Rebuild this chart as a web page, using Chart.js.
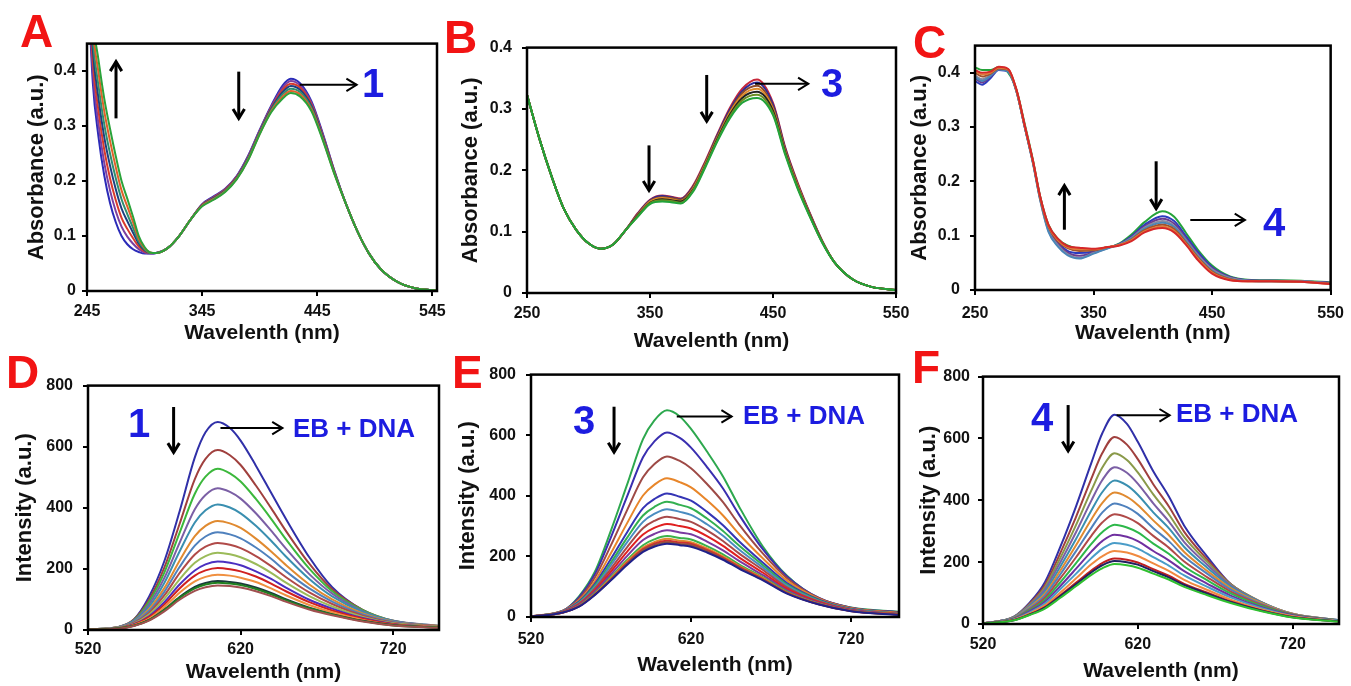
<!DOCTYPE html>
<html lang="en">
<head>
  <meta charset="UTF-8" />
  <title>Absorption and EB-DNA emission spectra</title>
  <script src="https://cdn.jsdelivr.net/npm/chart.js"></script>
  <style>
    body {
      margin: 0;
      width: 1351px;
      height: 686px;
      overflow: hidden;
      position: relative;
      background: #fff;
      font-family: "Liberation Sans", Arial, sans-serif;
    }
    .panel {
      position: absolute;
    }
    .tag {
      position: absolute;
      font-weight: 700;
      line-height: 1;
      white-space: nowrap;
    }
    .letter {
      color: #f21414;
      font-size: 46px;
    }
    .num {
      color: #1c1ce0;
      font-size: 40px;
    }
    .eb {
      color: #1c1ce0;
      font-size: 26px;
    }
  </style>
</head>
<body>
  <div class="panel" id="pA"><canvas id="cA"></canvas></div>
  <div class="panel" id="pB"><canvas id="cB"></canvas></div>
  <div class="panel" id="pC"><canvas id="cC"></canvas></div>
  <div class="panel" id="pD"><canvas id="cD"></canvas></div>
  <div class="panel" id="pE"><canvas id="cE"></canvas></div>
  <div class="panel" id="pF"><canvas id="cF"></canvas></div>

  <div class="tag letter" style="left:20px;top:8px">A</div>
  <div class="tag letter" style="left:444px;top:14px">B</div>
  <div class="tag letter" style="left:913px;top:19px">C</div>
  <div class="tag letter" style="left:6px;top:349px">D</div>
  <div class="tag letter" style="left:452px;top:349px">E</div>
  <div class="tag letter" style="left:912px;top:344px">F</div>

  <div class="tag num" style="left:362px;top:63px">1</div>
  <div class="tag num" style="left:821px;top:63px">3</div>
  <div class="tag num" style="left:1263px;top:202px">4</div>
  <div class="tag num" style="left:128px;top:403px">1</div>
  <div class="tag num" style="left:573px;top:400px">3</div>
  <div class="tag num" style="left:1031px;top:397px">4</div>

  <div class="tag eb" style="left:293px;top:415px">EB + DNA</div>
  <div class="tag eb" style="left:743px;top:402px">EB + DNA</div>
  <div class="tag eb" style="left:1176px;top:400px">EB + DNA</div>

  <script>
    // ---------- tick labels ----------
    const ticksA = [245, 345, 445, 545];
    const ticksBC = [250, 350, 450, 550];
    const ticksDEF = [520, 620, 720];
    const absTicks = [0, 0.1, 0.2, 0.3, 0.4];
    const intTicks = [0, 200, 400, 600, 800];

    // ---------- A: absorbance, complex 1 ----------
    const wlA = [245, 250, 255, 260, 265, 270, 275, 280, 285, 290, 295, 300, 305, 315, 325, 335, 345, 355, 365, 375, 385, 395, 405, 415, 422, 430, 440, 450, 460, 470, 480, 490, 500, 515, 530, 549];
    const absA = [
      [0.600, 0.38, 0.280, 0.210, 0.160, 0.125, 0.100, 0.085, 0.076, 0.071, 0.068, 0.068, 0.069, 0.078, 0.10, 0.13, 0.158, 0.172, 0.186, 0.209, 0.246, 0.293, 0.337, 0.374, 0.386, 0.378, 0.345, 0.285, 0.218, 0.158, 0.108, 0.068, 0.04, 0.016, 0.005, 0.001],
      [0.617, 0.40, 0.303, 0.233, 0.183, 0.145, 0.117, 0.099, 0.086, 0.076, 0.070, 0.068, 0.069, 0.078, 0.10, 0.13, 0.157, 0.171, 0.185, 0.208, 0.245, 0.292, 0.335, 0.370, 0.382, 0.374, 0.342, 0.283, 0.217, 0.158, 0.108, 0.068, 0.04, 0.016, 0.005, 0.001],
      [0.633, 0.42, 0.327, 0.257, 0.205, 0.165, 0.133, 0.113, 0.096, 0.081, 0.072, 0.069, 0.069, 0.078, 0.10, 0.13, 0.157, 0.170, 0.184, 0.207, 0.243, 0.290, 0.333, 0.366, 0.377, 0.370, 0.339, 0.281, 0.216, 0.158, 0.108, 0.068, 0.04, 0.016, 0.005, 0.001],
      [0.650, 0.44, 0.350, 0.280, 0.228, 0.185, 0.150, 0.127, 0.106, 0.086, 0.074, 0.069, 0.069, 0.078, 0.10, 0.13, 0.156, 0.169, 0.183, 0.206, 0.242, 0.289, 0.331, 0.362, 0.373, 0.366, 0.336, 0.279, 0.215, 0.158, 0.108, 0.068, 0.04, 0.016, 0.005, 0.001],
      [0.667, 0.46, 0.373, 0.303, 0.250, 0.205, 0.167, 0.140, 0.115, 0.090, 0.076, 0.069, 0.069, 0.078, 0.10, 0.13, 0.155, 0.168, 0.182, 0.205, 0.241, 0.288, 0.329, 0.358, 0.368, 0.362, 0.333, 0.277, 0.214, 0.158, 0.108, 0.068, 0.04, 0.016, 0.005, 0.001],
      [0.683, 0.48, 0.397, 0.327, 0.273, 0.225, 0.183, 0.154, 0.125, 0.095, 0.078, 0.070, 0.069, 0.078, 0.10, 0.13, 0.155, 0.167, 0.181, 0.204, 0.239, 0.286, 0.327, 0.354, 0.364, 0.358, 0.330, 0.275, 0.213, 0.158, 0.108, 0.068, 0.04, 0.016, 0.005, 0.001],
      [0.700, 0.50, 0.420, 0.350, 0.295, 0.245, 0.200, 0.168, 0.135, 0.100, 0.080, 0.070, 0.069, 0.078, 0.10, 0.13, 0.154, 0.166, 0.180, 0.203, 0.238, 0.285, 0.325, 0.350, 0.360, 0.354, 0.327, 0.273, 0.212, 0.158, 0.108, 0.068, 0.04, 0.016, 0.005, 0.001]
    ];
    const colorsA = ['#2b2bb8', '#7b3fa0', '#d93a2b', '#1e3f7f', '#2f8f6f', '#e0602a', '#2aa33a'];

    // ---------- B: absorbance, complex 3 ----------
    const wlB = [250, 260, 270, 280, 290, 300, 310, 320, 330, 340, 350, 360, 367, 375, 385, 395, 405, 415, 425, 437, 450, 460, 470, 480, 490, 500, 515, 530, 550];
    const absB = [
      [0.323, 0.252, 0.19, 0.137, 0.103, 0.081, 0.072, 0.079, 0.102, 0.130, 0.152, 0.159, 0.157, 0.154, 0.175, 0.215, 0.260, 0.302, 0.333, 0.348, 0.310, 0.237, 0.180, 0.130, 0.085, 0.05, 0.022, 0.01, 0.005],
      [0.323, 0.252, 0.19, 0.137, 0.103, 0.081, 0.072, 0.079, 0.102, 0.129, 0.151, 0.158, 0.156, 0.153, 0.173, 0.213, 0.258, 0.299, 0.329, 0.343, 0.307, 0.235, 0.178, 0.129, 0.085, 0.05, 0.022, 0.01, 0.005],
      [0.323, 0.252, 0.19, 0.137, 0.103, 0.081, 0.072, 0.079, 0.102, 0.128, 0.150, 0.156, 0.155, 0.152, 0.172, 0.212, 0.256, 0.296, 0.326, 0.338, 0.303, 0.233, 0.177, 0.128, 0.084, 0.05, 0.022, 0.01, 0.005],
      [0.323, 0.252, 0.19, 0.137, 0.103, 0.081, 0.072, 0.079, 0.102, 0.127, 0.149, 0.155, 0.153, 0.150, 0.170, 0.210, 0.254, 0.294, 0.322, 0.333, 0.300, 0.231, 0.175, 0.127, 0.084, 0.05, 0.022, 0.01, 0.005],
      [0.323, 0.252, 0.19, 0.137, 0.103, 0.081, 0.072, 0.079, 0.102, 0.126, 0.147, 0.153, 0.151, 0.149, 0.168, 0.208, 0.252, 0.291, 0.318, 0.328, 0.297, 0.229, 0.173, 0.126, 0.083, 0.05, 0.022, 0.01, 0.005],
      [0.323, 0.252, 0.19, 0.137, 0.103, 0.081, 0.072, 0.079, 0.102, 0.125, 0.146, 0.151, 0.150, 0.147, 0.167, 0.207, 0.250, 0.288, 0.314, 0.323, 0.293, 0.227, 0.172, 0.125, 0.083, 0.05, 0.022, 0.01, 0.005],
      [0.323, 0.252, 0.19, 0.137, 0.103, 0.081, 0.072, 0.079, 0.102, 0.124, 0.145, 0.149, 0.148, 0.146, 0.165, 0.205, 0.248, 0.285, 0.310, 0.318, 0.290, 0.225, 0.170, 0.124, 0.082, 0.05, 0.022, 0.01, 0.005]
    ];
    const colorsB = ['#c8283a', '#2b2b9b', '#8b4a2b', '#e08a2a', '#222222', '#6b8e23', '#22a33a'];

    // ---------- C: absorbance, complex 4 ----------
    const wlC = [250, 256, 263, 270, 278, 285, 292, 299, 305, 312, 320, 328, 338, 350, 362, 372, 382, 393, 408, 418, 428, 438, 450, 465, 480, 500, 525, 550];
    const absC = [
      [0.410, 0.405, 0.405, 0.410, 0.400, 0.368, 0.305, 0.238, 0.172, 0.120, 0.094, 0.082, 0.076, 0.074, 0.078, 0.086, 0.102, 0.125, 0.145, 0.135, 0.105, 0.074, 0.045, 0.025, 0.019, 0.018, 0.017, 0.014],
      [0.385, 0.378, 0.390, 0.405, 0.402, 0.366, 0.300, 0.234, 0.170, 0.115, 0.088, 0.072, 0.068, 0.071, 0.078, 0.085, 0.099, 0.120, 0.136, 0.127, 0.099, 0.070, 0.042, 0.024, 0.018, 0.017, 0.016, 0.013],
      [0.390, 0.382, 0.393, 0.406, 0.403, 0.366, 0.300, 0.234, 0.168, 0.112, 0.085, 0.069, 0.063, 0.069, 0.078, 0.084, 0.097, 0.117, 0.131, 0.122, 0.095, 0.066, 0.040, 0.023, 0.018, 0.017, 0.016, 0.013],
      [0.395, 0.388, 0.396, 0.407, 0.403, 0.366, 0.300, 0.233, 0.166, 0.109, 0.082, 0.066, 0.059, 0.068, 0.077, 0.084, 0.096, 0.115, 0.127, 0.118, 0.092, 0.064, 0.038, 0.022, 0.017, 0.016, 0.016, 0.012],
      [0.392, 0.385, 0.394, 0.406, 0.402, 0.365, 0.299, 0.232, 0.165, 0.107, 0.080, 0.064, 0.058, 0.067, 0.077, 0.083, 0.095, 0.113, 0.124, 0.116, 0.090, 0.062, 0.036, 0.021, 0.017, 0.016, 0.015, 0.012],
      [0.400, 0.393, 0.398, 0.408, 0.405, 0.367, 0.301, 0.235, 0.169, 0.116, 0.090, 0.077, 0.072, 0.073, 0.079, 0.083, 0.093, 0.110, 0.120, 0.112, 0.087, 0.060, 0.034, 0.020, 0.016, 0.016, 0.015, 0.012],
      [0.403, 0.397, 0.400, 0.409, 0.406, 0.368, 0.302, 0.236, 0.171, 0.118, 0.092, 0.079, 0.075, 0.075, 0.079, 0.083, 0.092, 0.108, 0.117, 0.109, 0.085, 0.058, 0.032, 0.019, 0.016, 0.016, 0.015, 0.011],
      [0.405, 0.400, 0.402, 0.411, 0.407, 0.369, 0.303, 0.237, 0.172, 0.120, 0.094, 0.081, 0.078, 0.076, 0.079, 0.082, 0.090, 0.106, 0.114, 0.106, 0.083, 0.055, 0.030, 0.018, 0.016, 0.016, 0.015, 0.011]
    ];
    const colorsC = ['#25a33a', '#2b3bbf', '#6b3c8f', '#8a8aa0', '#4a86b8', '#a0522d', '#e07b39', '#d62728'];

    // ---------- D, E, F: EB-DNA emission ----------
    const wlEm = [520, 540, 550, 560, 570, 580, 590, 597, 605, 613, 620, 630, 640, 650, 665, 680, 700, 720, 750];
    const emD = [
      [2, 10, 34, 109, 225, 388, 565, 647, 681, 661, 620, 538, 449, 361, 238, 140, 65, 27, 10],
      [2, 10, 34, 99, 204, 347, 494, 560, 589, 572, 540, 473, 399, 322, 217, 133, 66, 30, 12],
      [2, 10, 32, 92, 188, 318, 446, 502, 528, 513, 486, 429, 364, 295, 201, 127, 65, 30, 13],
      [2, 10, 31, 84, 170, 285, 395, 442, 464, 452, 430, 382, 325, 265, 183, 119, 62, 30, 14],
      [2, 9, 29, 76, 154, 257, 352, 392, 411, 401, 382, 341, 292, 239, 167, 110, 59, 29, 13],
      [2, 9, 26, 68, 137, 227, 307, 341, 357, 349, 334, 299, 257, 211, 149, 100, 54, 27, 13],
      [1, 8, 25, 62, 125, 206, 276, 306, 320, 313, 300, 270, 233, 191, 136, 93, 51, 26, 12],
      [1, 7, 23, 56, 113, 186, 247, 273, 285, 279, 268, 242, 209, 172, 123, 85, 47, 24, 12],
      [1, 7, 21, 51, 102, 166, 220, 242, 253, 248, 238, 216, 187, 154, 111, 77, 43, 22, 11],
      [1, 6, 19, 45, 91, 149, 195, 215, 224, 220, 212, 192, 167, 138, 99, 70, 39, 20, 10],
      [1, 6, 17, 42, 83, 136, 178, 195, 203, 199, 192, 175, 152, 126, 91, 64, 37, 19, 9],
      [1, 5, 16, 37, 75, 122, 159, 174, 181, 178, 171, 157, 136, 113, 82, 58, 33, 17, 9],
      [1, 5, 14, 33, 67, 108, 141, 154, 160, 157, 152, 139, 121, 100, 73, 52, 30, 16, 8],
      [1, 5, 14, 32, 65, 105, 136, 149, 155, 152, 147, 134, 117, 97, 71, 51, 29, 15, 8],
      [1, 4, 13, 31, 61, 99, 128, 140, 146, 144, 139, 127, 111, 92, 67, 48, 28, 15, 7]
    ];
    const colorsD = ['#3030a8', '#a0403e', '#3cb83c', '#7b5fa5', '#3a8fb0', '#e08a30', '#4f81bd', '#b04a48', '#9bbb59', '#4b2fc0', '#d02020', '#f09040', '#1a3a3a', '#208020', '#a05050'];

    const emE = [
      [2, 20, 68, 150, 286, 436, 587, 648, 682, 662, 621, 546, 464, 365, 232, 136, 61, 31, 17],
      [2, 21, 65, 142, 264, 397, 527, 579, 609, 591, 559, 495, 424, 338, 223, 134, 63, 31, 16],
      [2, 21, 60, 131, 237, 352, 461, 504, 530, 515, 491, 439, 379, 306, 209, 128, 62, 30, 14],
      [2, 21, 55, 119, 211, 309, 401, 436, 458, 445, 428, 385, 335, 274, 193, 120, 60, 29, 13],
      [1, 20, 51, 110, 192, 279, 359, 389, 408, 397, 384, 347, 303, 250, 179, 112, 57, 27, 11],
      [1, 19, 48, 104, 180, 261, 335, 363, 380, 370, 359, 325, 284, 236, 171, 107, 55, 26, 11],
      [1, 19, 46, 99, 171, 246, 314, 340, 356, 347, 337, 306, 268, 223, 163, 103, 53, 25, 10],
      [1, 18, 44, 94, 160, 230, 293, 317, 331, 323, 314, 286, 251, 210, 155, 98, 51, 24, 10],
      [1, 17, 41, 88, 150, 215, 272, 294, 307, 300, 292, 267, 235, 197, 146, 93, 49, 23, 9],
      [1, 16, 39, 84, 141, 201, 254, 274, 286, 279, 273, 249, 220, 185, 138, 88, 46, 22, 8],
      [1, 16, 37, 79, 132, 188, 237, 256, 267, 261, 256, 234, 207, 174, 131, 84, 44, 21, 8],
      [1, 15, 36, 77, 128, 183, 229, 247, 258, 252, 247, 226, 200, 169, 128, 81, 43, 20, 8],
      [1, 15, 35, 75, 125, 178, 224, 242, 252, 246, 242, 221, 196, 166, 125, 80, 42, 20, 8],
      [1, 15, 35, 74, 123, 175, 220, 237, 247, 241, 237, 217, 192, 163, 123, 79, 42, 20, 7],
      [1, 15, 34, 73, 121, 172, 215, 232, 242, 237, 232, 213, 189, 160, 121, 77, 41, 19, 7]
    ];
    const colorsE = ['#2da84e', '#3a2fb0', '#9e4a46', '#e8862a', '#3535b5', '#33b050', '#4a8cc0', '#a84a4a', '#e02020', '#7a3aa0', '#3bb24a', '#e08a30', '#d03030', '#905040', '#20208a'];

    const emF = [
      [2, 24, 68, 135, 250, 379, 521, 616, 677, 647, 589, 494, 413, 318, 217, 129, 68, 27, 10],
      [2, 23, 65, 126, 230, 345, 470, 552, 605, 580, 533, 452, 381, 298, 208, 129, 70, 30, 11],
      [2, 23, 62, 119, 214, 319, 432, 505, 552, 530, 490, 419, 355, 281, 200, 128, 71, 32, 12],
      [2, 22, 60, 112, 200, 296, 399, 465, 507, 489, 454, 390, 332, 265, 191, 125, 70, 33, 12],
      [2, 21, 57, 105, 186, 274, 367, 426, 464, 448, 418, 361, 310, 249, 181, 121, 69, 33, 12],
      [2, 20, 54, 98, 173, 254, 338, 391, 425, 411, 385, 335, 288, 233, 171, 116, 67, 33, 12],
      [2, 19, 51, 92, 161, 235, 311, 360, 390, 378, 356, 310, 268, 218, 162, 111, 64, 32, 12],
      [2, 18, 47, 85, 148, 215, 285, 328, 355, 345, 326, 285, 247, 202, 151, 105, 62, 31, 11],
      [1, 17, 44, 78, 135, 196, 259, 297, 321, 312, 296, 260, 227, 186, 141, 99, 58, 29, 11],
      [1, 16, 41, 72, 123, 178, 234, 268, 289, 282, 268, 236, 206, 171, 130, 92, 54, 28, 10],
      [1, 15, 37, 66, 113, 162, 213, 243, 262, 256, 244, 216, 189, 157, 120, 86, 51, 26, 10],
      [1, 14, 34, 60, 102, 147, 193, 219, 236, 231, 220, 196, 172, 143, 110, 79, 47, 25, 9],
      [1, 13, 31, 55, 93, 133, 173, 197, 212, 208, 199, 177, 156, 130, 101, 73, 44, 23, 8],
      [1, 12, 30, 53, 90, 128, 167, 190, 204, 200, 192, 171, 151, 126, 98, 71, 43, 22, 8],
      [1, 12, 29, 50, 85, 122, 159, 180, 194, 190, 182, 163, 144, 120, 93, 68, 41, 21, 8]
    ];
    const colorsF = ['#3030a8', '#a0403e', '#8a9a4a', '#7b5fa5', '#3a8fb0', '#e08a30', '#4f81bd', '#b04a48', '#2db84a', '#7030a0', '#4a9cc8', '#f08a40', '#c02020', '#202060', '#30c030'];

    // ---------- page layout (plot rectangles in page pixels) ----------
    const PAD_TOP = 14;
    const PAD_RIGHT = 20;
    const FONT = '"Liberation Sans", Arial, sans-serif';
    Chart.defaults.font.family = FONT;

    // black frame round the plot area
    const framePlugin = {
      id: 'frame',
      afterDraw(chart) {
        const { ctx, chartArea: a } = chart;
        ctx.save();
        ctx.strokeStyle = '#000';
        ctx.lineWidth = 2.5;
        ctx.strokeRect(a.left, a.top, a.right - a.left, a.bottom - a.top);
        ctx.restore();
      }
    };

    // arrows given in data units
    function arrowPlugin(list) {
      return {
        id: 'arrows',
        afterDraw(chart) {
          const { ctx } = chart;
          const sx = chart.scales.x, sy = chart.scales.y;
          list.forEach(a => {
            const x1 = sx.getPixelForValue(a.x1), y1 = sy.getPixelForValue(a.y1);
            const x2 = sx.getPixelForValue(a.x2), y2 = sy.getPixelForValue(a.y2);
            const ang = Math.atan2(y2 - y1, x2 - x1);
            ctx.save();
            ctx.strokeStyle = '#000';
            ctx.lineWidth = a.w;
            ctx.beginPath();
            ctx.moveTo(x1, y1);
            ctx.lineTo(x2, y2);
            ctx.stroke();
            ctx.beginPath();
            ctx.moveTo(x2 - a.head * Math.cos(ang - 0.55), y2 - a.head * Math.sin(ang - 0.55));
            ctx.lineTo(x2, y2);
            ctx.lineTo(x2 - a.head * Math.cos(ang + 0.55), y2 - a.head * Math.sin(ang + 0.55));
            ctx.stroke();
            ctx.restore();
          });
        }
      };
    }

    function makePanel(id, box, xs, series, colors, xr, xTicks, yr, yTicks, yTitle, arrows) {
      const el = document.getElementById('p' + id);
      el.style.left = (box.L - box.wy) + 'px';
      el.style.top = (box.T - PAD_TOP) + 'px';
      el.style.width = (box.R - box.L + box.wy + PAD_RIGHT) + 'px';
      el.style.height = (box.B - box.T + PAD_TOP + box.hx) + 'px';

      // later series are drawn on top, as in the original
      const datasets = series.map((ys, i) => ({
        data: xs.map((x, j) => ({ x: x, y: ys[j] })),
        borderColor: colors[i],
        borderWidth: 2,
        pointRadius: 0,
        fill: false,
        order: -i,
        cubicInterpolationMode: 'monotone'
      }));

      const tickFont = { size: 16, weight: 'bold', family: FONT };
      const gridOpts = { display: true, drawOnChartArea: false, drawTicks: true, tickLength: 5, color: '#000', lineWidth: 2 };

      new Chart(document.getElementById('c' + id), {
        type: 'line',
        data: { datasets: datasets },
        options: {
          responsive: true,
          maintainAspectRatio: false,
          animation: false,
          events: [],
          layout: { padding: { top: PAD_TOP, right: PAD_RIGHT, left: 0, bottom: 0 } },
          plugins: { legend: { display: false }, tooltip: { enabled: false } },
          scales: {
            x: {
              type: 'linear',
              min: xr[0],
              max: xr[1],
              afterBuildTicks: s => { s.ticks = xTicks.map(v => ({ value: v })); },
              afterFit: s => { s.height = box.hx; },
              grid: gridOpts,
              border: { display: false },
              ticks: { color: '#111', font: tickFont, padding: box.xpad, maxRotation: 0, autoSkip: false, callback: v => String(v) },
              title: { display: true, text: 'Wavelenth (nm)', color: '#111', font: { size: 21, weight: 'bold', family: FONT }, padding: { top: 4, bottom: 4 } }
            },
            y: {
              min: yr[0],
              max: yr[1],
              afterBuildTicks: s => { s.ticks = yTicks.map(v => ({ value: v })); },
              afterFit: s => { s.width = box.wy; },
              grid: gridOpts,
              border: { display: false },
              ticks: { color: '#111', font: tickFont, padding: box.ypad, autoSkip: false, callback: v => String(v) },
              title: { display: true, text: yTitle, color: '#111', font: { size: 22, weight: 'bold', family: FONT }, padding: { top: 4, bottom: 4 } }
            }
          }
        },
        plugins: [framePlugin, arrowPlugin(arrows)]
      });
    }

    window.onload = function () {
      makePanel('A', { L: 87, T: 42, R: 437, B: 291, wy: 67, hx: 59, xpad: 6, ypad: 6 },
        wlA, absA, colorsA, [245, 549], ticksA, [0, 0.45], absTicks, 'Absorbance (a.u.)', [
          { x1: 270.2, y1: 0.314, x2: 270.2, y2: 0.417, w: 3, head: 11 },
          { x1: 376.8, y1: 0.399, x2: 376.8, y2: 0.314, w: 3, head: 11 },
          { x1: 429.7, y1: 0.375, x2: 479.2, y2: 0.375, w: 2, head: 12 }
        ]);
      makePanel('B', { L: 527, T: 42, R: 896, B: 293, wy: 73, hx: 65, xpad: 6, ypad: 10 },
        wlB, absB, colorsB, [250, 550], ticksBC, [0, 0.4], absTicks, 'Absorbance (a.u.)', [
          { x1: 349.2, y1: 0.2406, x2: 349.2, y2: 0.1673, w: 3, head: 11 },
          { x1: 396.1, y1: 0.3554, x2: 396.1, y2: 0.28, w: 3, head: 11 },
          { x1: 435.4, y1: 0.341, x2: 478.7, y2: 0.341, w: 2, head: 12 }
        ]);
      makePanel('C', { L: 975, T: 40, R: 1333, B: 290, wy: 72, hx: 60, xpad: 9, ypad: 10 },
        wlC, absC, colorsC, [250, 550], ticksBC, [0, 0.45], absTicks, 'Absorbance (a.u.)', [
          { x1: 325.4, y1: 0.111, x2: 325.4, y2: 0.192, w: 3, head: 11 },
          { x1: 402.8, y1: 0.237, x2: 402.8, y2: 0.150, w: 3, head: 11 },
          { x1: 431.6, y1: 0.129, x2: 477.7, y2: 0.129, w: 2, head: 12 }
        ]);
      makePanel('D', { L: 88, T: 380, R: 439, B: 630, wy: 80, hx: 59, xpad: 5, ypad: 10 },
        wlEm, emD, colorsD, [520, 750], ticksDEF, [0, 800], intTicks, 'Intensity (a.u.)', [
          { x1: 576.1, y1: 730, x2: 576.1, y2: 581, w: 3, head: 11 },
          { x1: 606.8, y1: 661, x2: 647.4, y2: 661, w: 2, head: 12 }
        ]);
      makePanel('E', { L: 531, T: 369, R: 899, B: 617, wy: 80, hx: 65, xpad: 8, ypad: 10 },
        wlEm, emE, colorsE, [520, 750], ticksDEF, [0, 800], intTicks, 'Intensity (a.u.)', [
          { x1: 571.9, y1: 694, x2: 571.9, y2: 544, w: 3, head: 11 },
          { x1: 611.1, y1: 662, x2: 645.4, y2: 662, w: 2, head: 12 }
        ]);
      makePanel('F', { L: 983, T: 373, R: 1339, B: 624, wy: 71, hx: 64, xpad: 6, ypad: 8 },
        wlEm, emF, colorsF, [520, 750], ticksDEF, [0, 800], intTicks, 'Intensity (a.u.)', [
          { x1: 575, y1: 708, x2: 575, y2: 560, w: 3, head: 11 },
          { x1: 606.3, y1: 675, x2: 640.6, y2: 675, w: 2, head: 12 }
        ]);
    };
  </script>
</body>
</html>
